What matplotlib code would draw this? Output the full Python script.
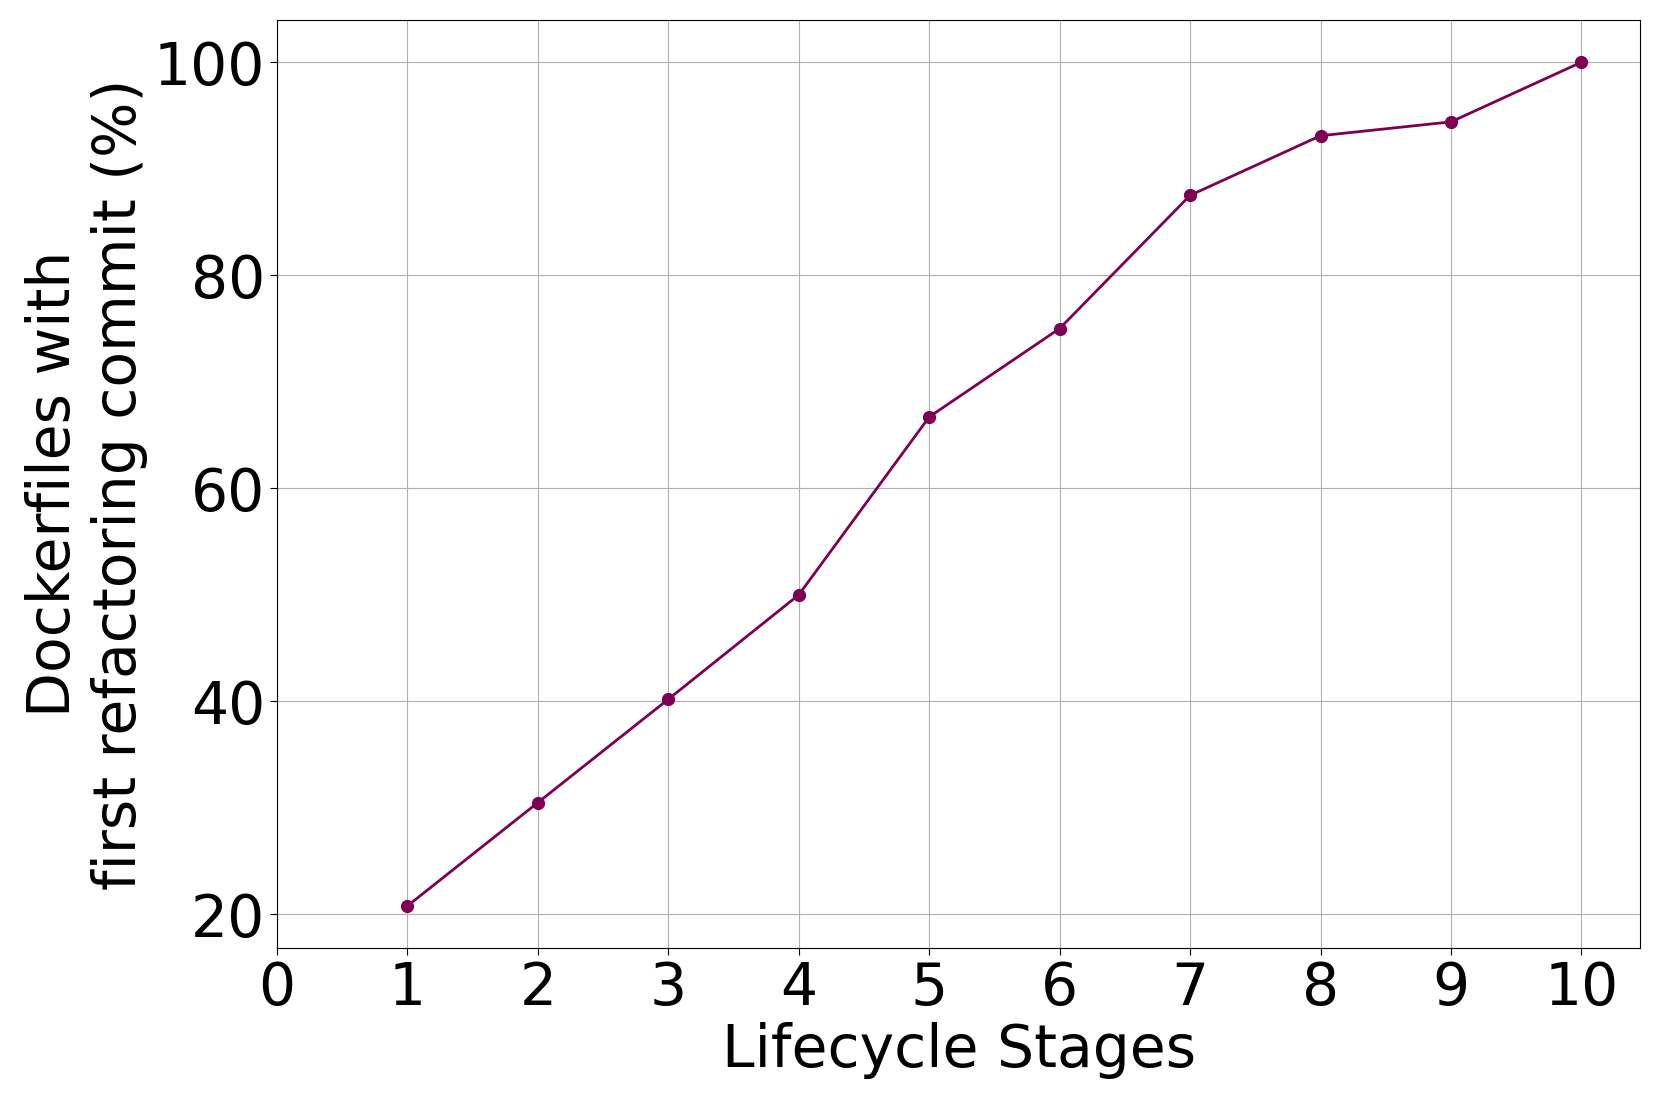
import matplotlib
matplotlib.use("Agg")
import matplotlib.pyplot as plt

# Dados
stages = [1, 2, 3, 4, 5, 6, 7, 8, 9, 10]
percent = [20.8, 30.5, 40.2, 50.0, 66.7, 75.0, 87.5, 93.1, 94.4, 100.0]
xticks = list(range(0, 11))
yticks = [20, 40, 60, 80, 100]

plt.rcParams['font.size'] = 42

fig = plt.figure(figsize=(16.61, 11.07), dpi=100)
ax = fig.add_axes([0.1668, 0.1436, 0.8206, 0.8383])

ax.plot(stages, percent, color='#7f0052', marker='o', markersize=8.5, linewidth=2)
ax.set_xlim(left=0)
ax.set_xticks(xticks)
ax.set_yticks(yticks)
ax.set_xlabel("Lifecycle Stages")
ax.set_ylabel("Dockerfiles with\nfirst refactoring commit (%)")
ax.grid(True)
ax.tick_params(length=5)

fig.savefig("out.png", dpi=100)
